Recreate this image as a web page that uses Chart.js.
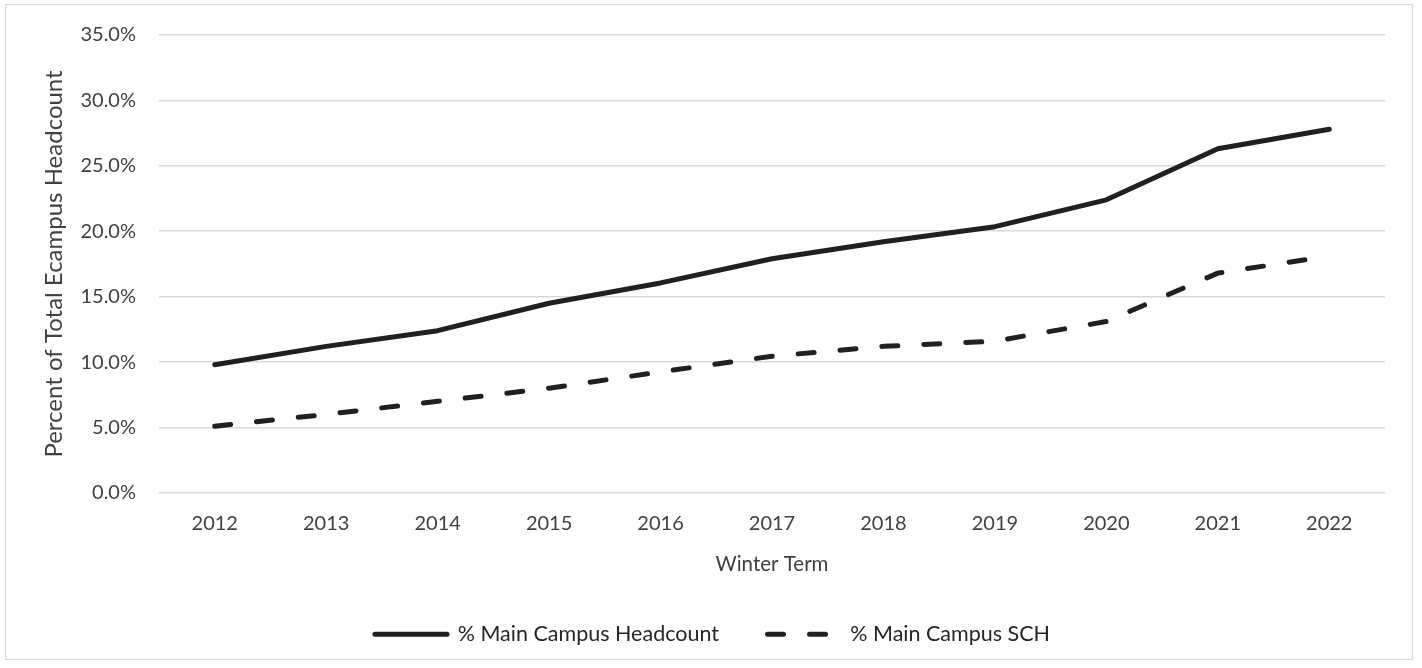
<!DOCTYPE html>
<html>
<head>
<meta charset="utf-8">
<script src="https://cdn.jsdelivr.net/npm/chart.js@4"></script>
<style>
  html, body { margin: 0; padding: 0; background: #fff; }
  #wrap { position: relative; width: 1422px; height: 668px; }
  #frame { position: absolute; left: 5px; top: 4px; width: 1406px; height: 654px; border: 1.5px solid #d9d9d9; pointer-events: none; }
  canvas { position: absolute; left: 0; top: 0; }
</style>
</head>
<body>
<div id="wrap">
  <canvas id="myChart" width="1422" height="668"></canvas>
  <div id="frame"></div>
</div>
<script>
// anos (eixo X)
var years = ['2012', '2013', '2014', '2015', '2016', '2017', '2018', '2019', '2020', '2021', '2022'];
// % Main Campus Headcount
var headcount = [9.8, 11.2, 12.4, 14.5, 16.05, 17.9, 19.2, 20.35, 22.4, 26.3, 27.8];
// % Main Campus SCH
var sch = [5.1, 6.0, 7.0, 8.0, 9.25, 10.45, 11.2, 11.6, 13.1, 16.8, 18.1];

var ink = '#231f20';
var textColor = '#404040';
var font = 'Lato';

var ctx = document.getElementById('myChart').getContext('2d');
var myChart = new Chart(ctx, {
  type: 'line',
  data: {
    labels: years,
    datasets: [
      {
        label: '% Main Campus Headcount',
        data: headcount,
        borderColor: ink,
        backgroundColor: ink,
        borderWidth: 5,
        borderCapStyle: 'round',
        borderJoinStyle: 'round',
        pointRadius: 0,
        tension: 0
      },
      {
        label: '% Main Campus SCH',
        data: sch,
        borderColor: ink,
        backgroundColor: ink,
        borderWidth: 5,
        borderDash: [16, 26],
        borderCapStyle: 'round',
        borderJoinStyle: 'round',
        pointRadius: 0,
        tension: 0
      }
    ]
  },
  options: {
    responsive: false,
    animation: false,
    devicePixelRatio: 1,
    layout: { padding: { top: 22, left: 40, right: 37, bottom: 13 } },
    plugins: {
      tooltip: { enabled: false },
      legend: {
        position: 'bottom',
        labels: {
          usePointStyle: true,
          pointStyle: 'line',
          pointStyleWidth: 72,
          boxWidth: 72,
          boxHeight: 5,
          padding: 10,
          color: '#262626',
          font: { family: font, size: 21.5 },
          // o estilo do ponto não traz o tracejado, então copia do dataset
          generateLabels: function (chart) {
            return chart.data.datasets.map(function (ds, i) {
              // espaços no fim do primeiro item para afastar o segundo
              var txt = i === 0 ? ds.label + '       ' : ds.label;
              return {
                text: txt,
                fillStyle: ds.borderColor,
                strokeStyle: ds.borderColor,
                lineWidth: 5,
                lineCap: 'round',
                lineDash: ds.borderDash || [],
                pointStyle: 'line',
                fontColor: '#262626',
                hidden: false,
                datasetIndex: i
              };
            });
          }
        }
      }
    },
    scales: {
      x: {
        offset: true,
        grid: { display: false, drawTicks: false },
        border: { display: false },
        ticks: { color: textColor, font: { family: font, size: 20 }, padding: 19 },
        title: {
          display: true,
          text: 'Winter Term',
          color: textColor,
          font: { family: font, size: 20.5 },
          padding: { top: -3, bottom: 37 }
        }
      },
      y: {
        min: 0,
        max: 35,
        afterFit: function (scale) { scale.width = 119; },
        ticks: {
          stepSize: 5,
          color: textColor,
          font: { family: font, size: 20 },
          padding: 23,
          callback: function (v) { return v.toFixed(1) + '%'; }
        },
        grid: { color: '#d9d9d9', lineWidth: 1.5, drawTicks: false },
        border: { display: false },
        title: {
          display: true,
          text: 'Percent of Total Ecampus Headcount',
          color: textColor,
          font: { family: font, size: 24 },
          padding: { top: 0, bottom: 0 }
        }
      }
    }
  }
});
</script>
</body>
</html>
